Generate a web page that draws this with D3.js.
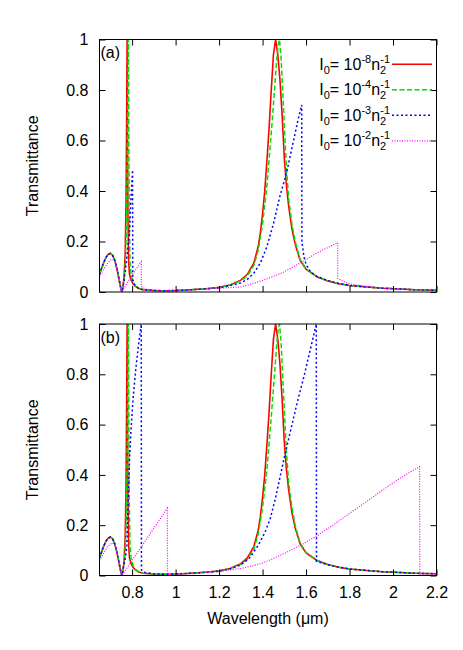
<!DOCTYPE html>
<html>
<head>
<meta charset="utf-8">
<script src="https://cdn.jsdelivr.net/npm/d3@7"></script>
<style>
  body { margin: 0; background: #fff; }
  text { font-family: "Liberation Sans", Arial, Helvetica, sans-serif; }
</style>
</head>
<body>
<div id="chart"></div>
<script>
// tick values
const wavelengthTicks = [0.8, 1, 1.2, 1.4, 1.6, 1.8, 2, 2.2];
const transTicks = [0, 0.2, 0.4, 0.6, 0.8, 1];
const intensityExps = ["-8", "-4", "-3", "-2"];
const panelNames = ["(a)", "(b)"];

// I0 = 1e-8 n2^-1 (same in both panels)
const seriesLow = [[0.65,0.07],[0.66,0.095],[0.67,0.118],[0.68,0.137],[0.69,0.149],[0.70,0.153],[0.71,0.146],[0.72,0.126],[0.73,0.093],[0.74,0.05],[0.748,0.015],[0.753,0],[0.758,0.02],[0.763,0.06],[0.768,0.15],[0.772,0.35],[0.775,0.7],[0.777,1.0],[0.779,0.6],[0.781,0.3],[0.784,0.12],[0.788,0.07],[0.795,0.048],[0.805,0.032],[0.815,0.022],[0.83,0.014],[0.85,0.009],[0.9,0.006],[0.95,0.005],[1.0,0.006],[1.05,0.008],[1.1,0.011],[1.15,0.014],[1.2,0.019],[1.25,0.028],[1.3,0.047],[1.33,0.07],[1.36,0.115],[1.38,0.18],[1.39,0.235],[1.40,0.31],[1.41,0.4],[1.42,0.52],[1.43,0.65],[1.44,0.8],[1.45,0.94],[1.46,1.0],[1.47,0.94],[1.48,0.84],[1.49,0.7],[1.50,0.53],[1.51,0.42],[1.52,0.34],[1.535,0.25],[1.55,0.19],[1.573,0.125],[1.6,0.09],[1.65,0.06],[1.7,0.044],[1.75,0.033],[1.8,0.026],[1.88,0.02],[1.95,0.015],[2.03,0.012],[2.1,0.009],[2.2,0.007]];

// I0 = 1e-4 n2^-1 (same in both panels)
const series4 = [[0.65,0.07],[0.66,0.095],[0.67,0.118],[0.68,0.137],[0.69,0.149],[0.70,0.153],[0.71,0.146],[0.72,0.126],[0.73,0.093],[0.74,0.05],[0.748,0.015],[0.753,0],[0.758,0.02],[0.763,0.05],[0.768,0.1],[0.773,0.22],[0.777,0.45],[0.780,0.75],[0.783,1.0],[0.785,0.6],[0.787,0.3],[0.79,0.13],[0.795,0.07],[0.805,0.038],[0.815,0.024],[0.83,0.015],[0.85,0.009],[0.9,0.006],[0.95,0.005],[1.0,0.006],[1.05,0.008],[1.1,0.011],[1.15,0.014],[1.2,0.018],[1.25,0.027],[1.3,0.044],[1.33,0.064],[1.36,0.105],[1.38,0.165],[1.40,0.27],[1.42,0.42],[1.44,0.63],[1.455,0.8],[1.465,0.92],[1.472,0.98],[1.478,1.0],[1.485,0.93],[1.49,0.84],[1.50,0.66],[1.51,0.49],[1.52,0.37],[1.535,0.27],[1.55,0.2],[1.573,0.128],[1.6,0.092],[1.65,0.061],[1.7,0.044],[1.75,0.033],[1.8,0.026],[1.88,0.02],[1.95,0.015],[2.03,0.012],[2.1,0.009],[2.2,0.007]];

// I0 = 1e-3 n2^-1
const series3a = [[0.65,0.07],[0.66,0.095],[0.67,0.118],[0.68,0.137],[0.69,0.149],[0.70,0.153],[0.71,0.146],[0.72,0.126],[0.73,0.093],[0.74,0.05],[0.748,0.015],[0.753,0],[0.76,0.03],[0.77,0.09],[0.78,0.17],[0.788,0.24],[0.794,0.36],[0.80,0.45],[0.802,0.483],[0.803,0.05],[0.81,0.03],[0.82,0.021],[0.83,0.014],[0.85,0.009],[0.9,0.006],[0.95,0.005],[1.0,0.006],[1.05,0.008],[1.1,0.01],[1.15,0.013],[1.2,0.017],[1.25,0.025],[1.3,0.036],[1.33,0.05],[1.36,0.075],[1.39,0.115],[1.42,0.18],[1.45,0.27],[1.48,0.38],[1.51,0.47],[1.54,0.59],[1.56,0.67],[1.58,0.741],[1.581,0.2],[1.59,0.14],[1.6,0.11],[1.62,0.08],[1.65,0.062],[1.7,0.045],[1.75,0.034],[1.8,0.026],[1.88,0.02],[1.95,0.015],[2.03,0.012],[2.1,0.009],[2.2,0.007]];
const series3b = [[0.65,0.07],[0.66,0.095],[0.67,0.118],[0.68,0.137],[0.69,0.149],[0.70,0.153],[0.71,0.146],[0.72,0.126],[0.73,0.093],[0.74,0.05],[0.748,0.015],[0.753,0],[0.76,0.03],[0.77,0.075],[0.776,0.12],[0.782,0.3],[0.788,0.46],[0.795,0.58],[0.806,0.72],[0.818,0.83],[0.83,0.92],[0.842,1.0],[0.843,0.022],[0.86,0.012],[0.9,0.007],[0.95,0.005],[1.0,0.006],[1.05,0.008],[1.1,0.01],[1.15,0.013],[1.2,0.017],[1.25,0.026],[1.3,0.042],[1.343,0.072],[1.38,0.12],[1.41,0.17],[1.435,0.225],[1.46,0.31],[1.48,0.39],[1.50,0.47],[1.53,0.58],[1.56,0.69],[1.59,0.79],[1.62,0.9],[1.647,1.0],[1.648,0.056],[1.7,0.043],[1.75,0.033],[1.8,0.026],[1.88,0.02],[1.95,0.015],[2.03,0.012],[2.1,0.009],[2.2,0.007]];

// I0 = 1e-2 n2^-1
const series2a = [[0.65,0.06],[0.66,0.075],[0.67,0.09],[0.68,0.105],[0.69,0.117],[0.70,0.125],[0.71,0.13],[0.72,0.12],[0.73,0.09],[0.74,0.048],[0.748,0.015],[0.753,0],[0.77,0.025],[0.79,0.055],[0.81,0.08],[0.83,0.105],[0.842,0.12],[0.843,0.022],[0.86,0.012],[0.9,0.007],[1.0,0.006],[1.1,0.01],[1.2,0.015],[1.3,0.02],[1.35,0.032],[1.4,0.046],[1.45,0.062],[1.5,0.08],[1.55,0.104],[1.6,0.128],[1.65,0.155],[1.7,0.176],[1.745,0.196],[1.746,0.054],[1.76,0.047],[1.8,0.032],[1.88,0.022],[1.95,0.016],[2.03,0.012],[2.1,0.01],[2.2,0.008]];
const series2b = [[0.65,0.06],[0.66,0.075],[0.67,0.09],[0.68,0.105],[0.69,0.117],[0.70,0.125],[0.71,0.13],[0.72,0.12],[0.73,0.09],[0.74,0.048],[0.748,0.015],[0.753,0],[0.8,0.06],[0.85,0.124],[0.9,0.188],[0.962,0.268],[0.963,0.003],[1.0,0.005],[1.1,0.008],[1.2,0.016],[1.3,0.028],[1.343,0.036],[1.4,0.05],[1.435,0.062],[1.5,0.088],[1.573,0.12],[1.65,0.158],[1.727,0.202],[1.8,0.247],[1.88,0.295],[1.956,0.342],[2.033,0.387],[2.08,0.412],[2.122,0.433],[2.123,0.006],[2.2,0.005]];

const width = 463, height = 650;
const left = 99.5, right = 436.5;
const panels = [
  { top: 39.5, bottom: 292, curves: [seriesLow, series4, series3a, series2a], legend: true },
  { top: 324, bottom: 575.5, curves: [seriesLow, series4, series3b, series2b], legend: false }
];
const styles = [
  { color: "#ff0000", dash: null, w: 1.6 },
  { color: "#00e000", dash: "5,2.5", w: 1.5 },
  { color: "#0000ff", dash: "2,2.5", w: 1.5 },
  { color: "#ff00ff", dash: "1,1.5", w: 1.2 }
];

const svg = d3.select("#chart").append("svg").attr("width", width).attr("height", height);
const x = d3.scaleLinear().domain([0.65, 2.2]).range([left, right]);

panels.forEach((p, pi) => {
  const y = d3.scaleLinear().domain([0, 1]).range([p.bottom, p.top]);
  const g = svg.append("g");

  g.append("clipPath").attr("id", "clip" + pi).append("rect")
    .attr("x", left).attr("y", p.top - 1).attr("width", right - left).attr("height", p.bottom - p.top + 1);

  const line = d3.line().x(d => x(d[0])).y(d => y(d[1]));
  const curveG = g.append("g").attr("clip-path", `url(#clip${pi})`);
  p.curves.forEach((c, i) => {
    curveG.append("path").datum(c)
      .attr("d", line)
      .attr("fill", "none")
      .attr("stroke", styles[i].color)
      .attr("stroke-width", styles[i].w)
      .attr("stroke-dasharray", styles[i].dash);
  });

  // axes with inward ticks
  const bottomAx = d3.axisBottom(x).tickValues(wavelengthTicks).tickSize(-6).tickPadding(11)
    .tickFormat(pi === 1 ? d => String(d) : "");
  const topAx = d3.axisTop(x).tickValues(wavelengthTicks).tickSize(-6).tickFormat("");
  const leftAx = d3.axisLeft(y).tickValues(transTicks).tickSize(-6).tickPadding(11).tickFormat(d => String(d));
  const rightAx = d3.axisRight(y).tickValues(transTicks).tickSize(-6).tickFormat("");

  [[bottomAx, `translate(0,${p.bottom})`], [topAx, `translate(0,${p.top})`],
   [leftAx, `translate(${left},0)`], [rightAx, `translate(${right},0)`]].forEach(([ax, tr]) => {
    const a = g.append("g").attr("transform", tr).call(ax);
    a.select(".domain").remove();
    a.selectAll("line").attr("stroke", "#000");
    a.selectAll("text").attr("font-size", 16).attr("fill", "#000")
      .style("font-family", '"Liberation Sans", Arial, sans-serif');
  });

  g.append("rect").attr("x", left).attr("y", p.top)
    .attr("width", right - left).attr("height", p.bottom - p.top)
    .attr("fill", "none").attr("stroke", "#000").attr("stroke-width", 1);

  g.append("text").attr("x", left + 1).attr("y", p.top + 18.5)
    .attr("font-size", 16).text(panelNames[pi]);

  g.append("text")
    .attr("transform", `translate(38,${(p.top + p.bottom) / 2}) rotate(-90)`)
    .attr("text-anchor", "middle").attr("font-size", 16).text("Transmittance");

  if (p.legend) {
    intensityExps.forEach((e, i) => {
      const ly = 64.3 + i * 25.5;
      const t = g.append("text").attr("x", 390).attr("y", ly + 5.5)
        .attr("text-anchor", "end").attr("font-size", 16);
      t.append("tspan").text("I");
      t.append("tspan").attr("font-size", 11).attr("dy", 4).text("0");
      t.append("tspan").attr("dy", -4).text("= 10");
      t.append("tspan").attr("font-size", 11).attr("dy", -7).text(e);
      t.append("tspan").attr("dy", 7).text("n");
      t.append("tspan").attr("font-size", 11).attr("dy", 4).text("2");
      t.append("tspan").attr("font-size", 11).attr("dx", -6).attr("dy", -11).text("-1");
      g.append("line").attr("x1", 392).attr("x2", 432).attr("y1", ly).attr("y2", ly)
        .attr("stroke", styles[i].color).attr("stroke-width", styles[i].w)
        .attr("stroke-dasharray", styles[i].dash);
    });
  }
});

svg.append("text").attr("x", 268).attr("y", 623.5).attr("text-anchor", "middle")
  .attr("font-size", 16).text("Wavelength (\u03bcm)");
</script>
</body>
</html>
